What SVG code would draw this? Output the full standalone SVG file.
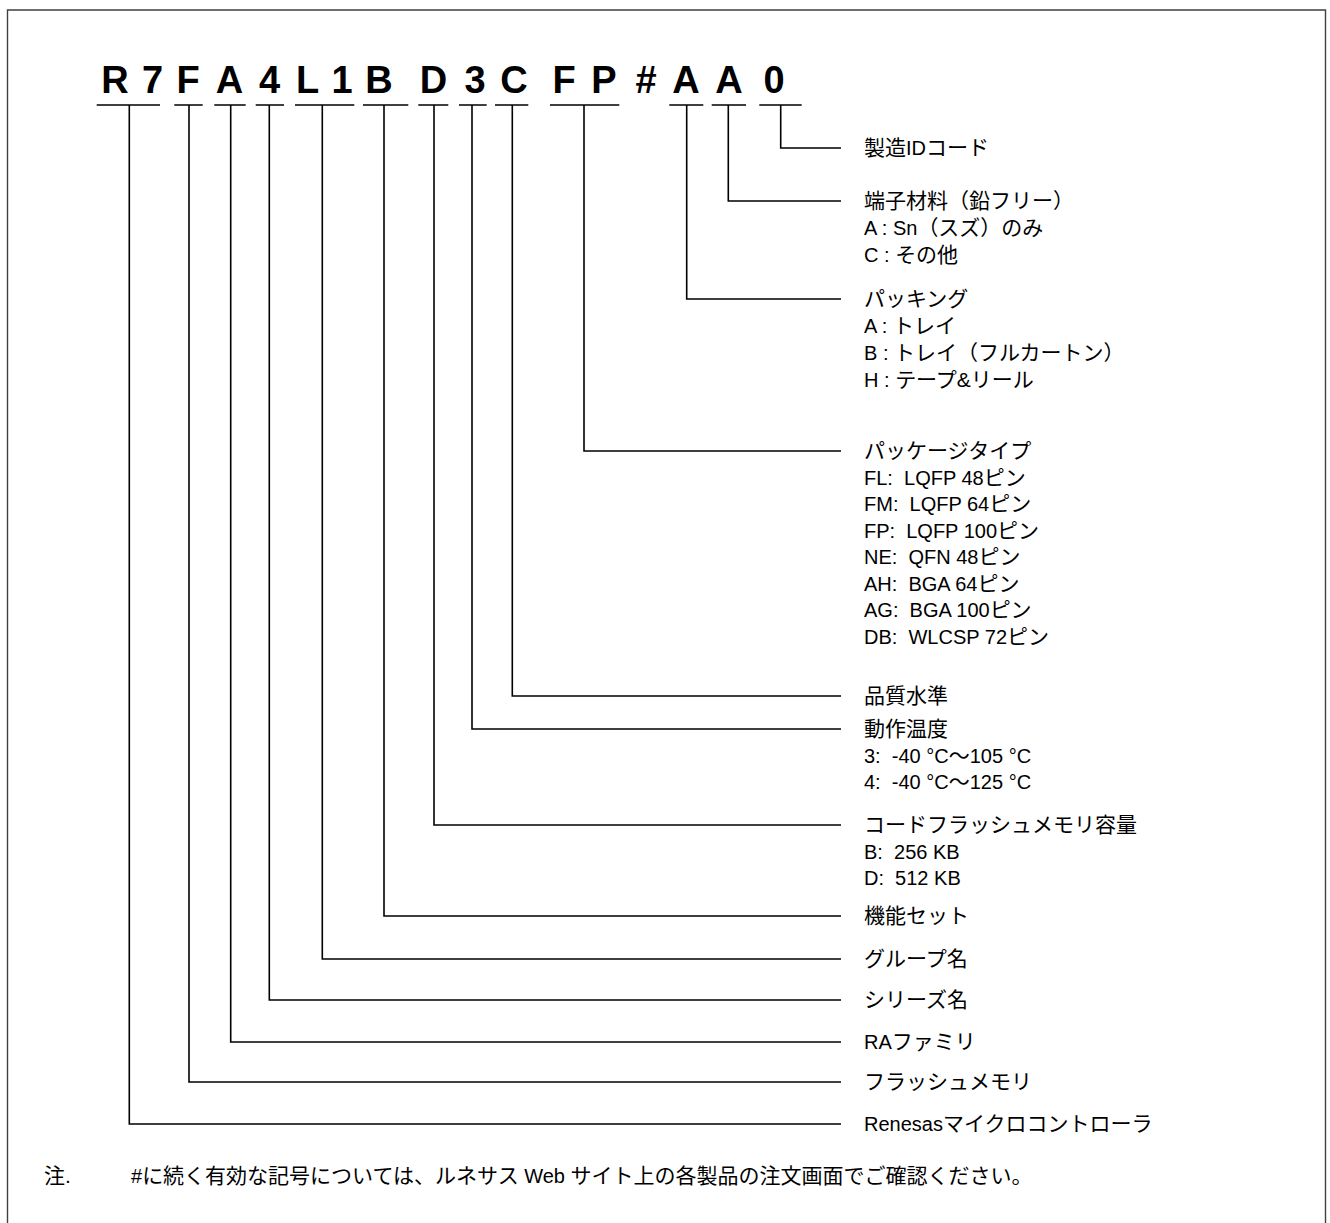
<svg xmlns="http://www.w3.org/2000/svg" width="1330" height="1223" viewBox="0 0 1330 1223">
<style>
.code{font-family:"Liberation Sans",Arial,"Noto Sans CJK JP",sans-serif;font-size:38px;font-weight:bold;fill:#000;text-anchor:middle}
.lbl{font-family:"Liberation Sans",Arial,"Noto Sans CJK JP",sans-serif;font-size:20px;fill:#000;white-space:pre}
.j{font-size:21px}
.ul{stroke:#000;stroke-width:1.7;fill:none}
.con{stroke:#000;stroke-width:1.6;fill:none}
</style>
<rect x="0" y="0" width="1330" height="1223" fill="#fff"/>
<path d="M7.5 1223 V10 H1325.5 V1223" fill="none" stroke="#404040" stroke-width="1.4"/>
<g id="code">
<text class="code" x="115" y="93">R</text>
<text class="code" x="152.5" y="93">7</text>
<text class="code" x="188" y="93">F</text>
<text class="code" x="229.5" y="93">A</text>
<text class="code" x="269.5" y="93">4</text>
<text class="code" x="307.5" y="93">L</text>
<text class="code" x="342" y="93">1</text>
<text class="code" x="379" y="93">B</text>
<text class="code" x="433.5" y="93">D</text>
<text class="code" x="475" y="93">3</text>
<text class="code" x="514" y="93">C</text>
<text class="code" x="564" y="93">F</text>
<text class="code" x="604" y="93">P</text>
<text class="code" x="646" y="93">#</text>
<text class="code" x="686" y="93">A</text>
<text class="code" x="729" y="93">A</text>
<text class="code" x="774" y="93">0</text>
</g>
<g id="underlines">
<path class="ul" d="M96.7 105H160M174.3 105H202.7M214.3 105H245.7M255.7 105H284M295 105H354.3M363 105H408.3M418.3 105H448.3M459 105H486.7M495 105H528.3M550 105H619.3M669.3 105H703.3M711.7 105H746M759.3 105H801.7"/>
</g>
<g id="connectors">
<path class="con" d="M780.7 105V148H841"/>
<path class="con" d="M728.3 105V201H841"/>
<path class="con" d="M686.7 105V299H841"/>
<path class="con" d="M584 105V451H841"/>
<path class="con" d="M512.3 105V696H841"/>
<path class="con" d="M472 105V729H841"/>
<path class="con" d="M434 105V825H841"/>
<path class="con" d="M384 105V916H841"/>
<path class="con" d="M322.3 105V959H841"/>
<path class="con" d="M269.3 105V1000H841"/>
<path class="con" d="M230.7 105V1042H841"/>
<path class="con" d="M189 105V1082H841"/>
<path class="con" d="M129.3 105V1124H841"/>
</g>
<g id="n-id"><text class="lbl" x="864" y="155"><tspan class="j">製造</tspan>ID<tspan class="j">コード</tspan></text></g>
<g id="n-terminal">
<text class="lbl j" x="864" y="208">端子材料（鉛フリー）</text>
<text class="lbl" x="864" y="235">A : Sn<tspan class="j">（スズ）のみ</tspan></text>
<text class="lbl" x="864" y="262">C : <tspan class="j">その他</tspan></text>
</g>
<g id="n-packing">
<text class="lbl j" x="864" y="306">パッキング</text>
<text class="lbl" x="864" y="333">A : <tspan class="j">トレイ</tspan></text>
<text class="lbl" x="864" y="360">B : <tspan class="j">トレイ（フルカートン）</tspan></text>
<text class="lbl" x="864" y="387">H : <tspan class="j">テープ&amp;リール</tspan></text>
</g>
<g id="n-package">
<text class="lbl j" x="864" y="458">パッケージタイプ</text>
<text class="lbl" x="864" y="484.5">FL:  LQFP 48<tspan class="j">ピン</tspan></text>
<text class="lbl" x="864" y="511">FM:  LQFP 64<tspan class="j">ピン</tspan></text>
<text class="lbl" x="864" y="537.5">FP:  LQFP 100<tspan class="j">ピン</tspan></text>
<text class="lbl" x="864" y="564">NE:  QFN 48<tspan class="j">ピン</tspan></text>
<text class="lbl" x="864" y="590.5">AH:  BGA 64<tspan class="j">ピン</tspan></text>
<text class="lbl" x="864" y="617">AG:  BGA 100<tspan class="j">ピン</tspan></text>
<text class="lbl" x="864" y="643.5">DB:  WLCSP 72<tspan class="j">ピン</tspan></text>
</g>
<g id="n-quality"><text class="lbl j" x="864" y="703">品質水準</text></g>
<g id="n-temp">
<text class="lbl j" x="864" y="736">動作温度</text>
<text class="lbl" x="864" y="763">3:  -40 °C<tspan class="j">～</tspan>105 °C</text>
<text class="lbl" x="864" y="789">4:  -40 °C<tspan class="j">～</tspan>125 °C</text>
</g>
<g id="n-flash">
<text class="lbl j" x="864" y="832">コードフラッシュメモリ容量</text>
<text class="lbl" x="864" y="859">B:  256 KB</text>
<text class="lbl" x="864" y="885">D:  512 KB</text>
</g>
<g id="n-feature"><text class="lbl j" x="864" y="923">機能セット</text></g>
<g id="n-group"><text class="lbl j" x="864" y="966">グループ名</text></g>
<g id="n-series"><text class="lbl j" x="864" y="1007">シリーズ名</text></g>
<g id="n-family"><text class="lbl" x="864" y="1049">RA<tspan class="j">ファミリ</tspan></text></g>
<g id="n-memory"><text class="lbl j" x="864" y="1089">フラッシュメモリ</text></g>
<g id="n-renesas"><text class="lbl" x="864" y="1131">Renesas<tspan class="j">マイクロコントローラ</tspan></text></g>
<g id="note">
<text class="lbl j" x="44" y="1183">注.</text>
<text class="lbl" x="131" y="1183">#<tspan class="j">に続く有効な記号については、ルネサス</tspan> Web <tspan class="j">サイト上の各製品の注文画面でご確認ください。</tspan></text>
</g>
</svg>
